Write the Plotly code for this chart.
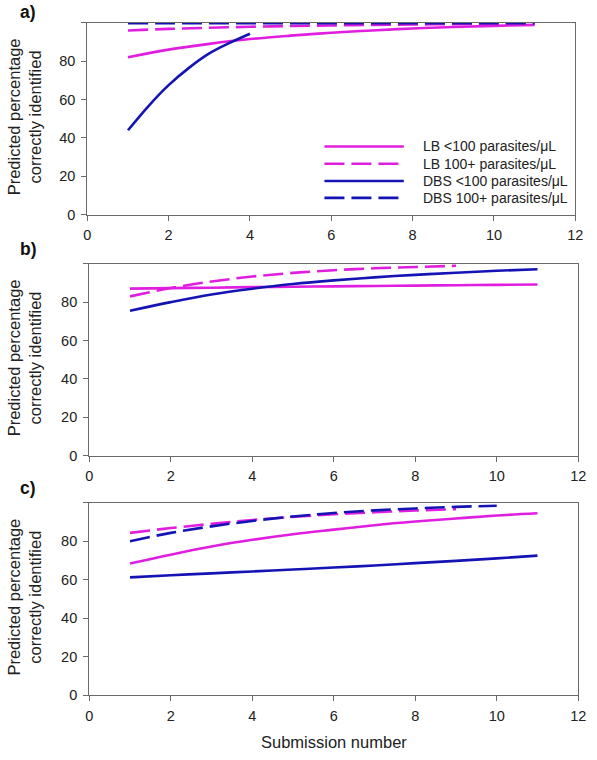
import plotly.graph_objects as go

# ---------------- data ----------------
x_full = [1, 2, 3, 4, 5, 6, 7, 8, 9, 10, 11]
x_to9 = [1, 2, 3, 4, 5, 6, 7, 8, 9]
x_to10 = [1, 2, 3, 4, 5, 6, 7, 8, 9, 10]
x_a_dbs_low = [1, 1.5, 2, 2.5, 3, 3.5, 4]

# panel a
a_lb_low = [82.0, 86.0, 89.0, 91.5, 93.3, 94.8, 96.0, 97.0, 97.8, 98.4, 98.9]
a_lb_high = [96.0, 96.8, 97.4, 97.9, 98.3, 98.6, 98.9, 99.1, 99.3, 99.4, 99.5]
a_dbs_low = [44.0, 56.5, 67.5, 76.5, 84.0, 89.5, 94.3]
a_dbs_high = [99.8, 99.8, 99.8, 99.8, 99.8, 99.8, 99.8, 99.8, 99.8, 99.8, 99.8]

# panel b
b_lb_low = [87.0, 87.3, 87.5, 87.8, 88.0, 88.2, 88.4, 88.6, 88.8, 89.0, 89.2]
b_lb_high = [83.0, 87.3, 90.7, 93.3, 95.2, 96.6, 97.6, 98.3, 98.9]
b_dbs_low = [75.5, 80.0, 84.0, 87.0, 89.4, 91.3, 92.9, 94.2, 95.3, 96.3, 97.1]

# panel c
c_lb_low = [68.4, 73.0, 77.2, 80.7, 83.6, 86.0, 88.3, 90.2, 91.8, 93.3, 94.5]
c_lb_high = [84.3, 86.8, 89.0, 91.0, 92.6, 94.0, 95.0, 95.9, 96.6]
c_dbs_low = [61.2, 62.3, 63.3, 64.3, 65.3, 66.3, 67.4, 68.6, 69.8, 71.1, 72.5]
c_dbs_high = [80.0, 84.3, 87.7, 90.5, 92.8, 94.6, 96.0, 97.0, 97.8, 98.4]

series_names = ["LB <100 parasites/μL", "LB 100+ parasites/μL",
                "DBS <100 parasites/μL", "DBS 100+ parasites/μL"]
y_tickvals = [0, 20, 40, 60, 80, 100]
y_ticktext = ["0", "20", "40", "60", "80", ""]
x_tickvals = [0, 2, 4, 6, 8, 10, 12]
panel_labels = ["a)", "b)", "c)"]
y_title = "Predicted percentage<br>correctly identified"
x_title = "Submission number"

# ---------------- style ----------------
MAG = "#E01EE0"
BLU = "#1414B4"
LW = 2.6
DASH = "20px,7px"
W, H = 597, 760
FONT = "Liberation Sans, Arial, sans-serif"

styles = {
    "lb_low": dict(color=MAG, width=LW, dash="solid"),
    "lb_high": dict(color=MAG, width=LW, dash=DASH),
    "dbs_low": dict(color=BLU, width=LW, dash="solid"),
    "dbs_high": dict(color=BLU, width=LW, dash=DASH),
}

# pixel geometry of panels (left, right, top, bottom)
panels = [
    (85, 583, 23, 217),
    (87, 586, 266.5, 460.7),
    (87, 586, 508, 702.7),
]

fig = go.Figure()

def add(x, y, key, axis_idx):
    sfx = "" if axis_idx == 1 else str(axis_idx)
    fig.add_trace(go.Scatter(
        x=x, y=y, mode="lines", line=dict(shape="spline", **styles[key]),
        xaxis="x" + sfx, yaxis="y" + sfx, showlegend=False, hoverinfo="skip"))

# panel a
add(x_full, a_lb_low, "lb_low", 1)
add(x_full, a_lb_high, "lb_high", 1)
add(x_a_dbs_low, a_dbs_low, "dbs_low", 1)
add(x_full, a_dbs_high, "dbs_high", 1)
# panel b
add(x_full, b_lb_low, "lb_low", 2)
add(x_to9, b_lb_high, "lb_high", 2)
add(x_full, b_dbs_low, "dbs_low", 2)
# panel c
add(x_full, c_lb_low, "lb_low", 3)
add(x_full, c_dbs_low, "dbs_low", 3)
add(x_to9, c_lb_high, "lb_high", 3)
add(x_to10, c_dbs_high, "dbs_high", 3)

layout = dict(
    width=W, height=H, margin=dict(l=0, r=0, t=0, b=0),
    paper_bgcolor="white", plot_bgcolor="white",
    font=dict(family=FONT, size=14, color="#222"),
    showlegend=False,
)

axis_common = dict(showgrid=False, zeroline=False, showline=True, linecolor="#6a6a6a",
                   linewidth=1.2, mirror=True, ticks="outside", ticklen=5, tickwidth=1.2,
                   tickcolor="#6a6a6a", tickfont=dict(size=14.5, color="#222", family=FONT))

for i, (l, r, t, b) in enumerate(panels, start=1):
    sfx = "" if i == 1 else str(i)
    layout["xaxis" + sfx] = dict(axis_common, domain=[l / W, r / W], range=[0, 12],
                                 tickvals=x_tickvals, anchor="y" + sfx, ticklabelstandoff=2)
    layout["yaxis" + sfx] = dict(axis_common, domain=[1 - b / H, 1 - t / H], range=[0, 100],
                                 tickvals=y_tickvals, ticktext=y_ticktext, anchor="x" + sfx,
                                 ticklabelstandoff=3)

fig.update_layout(**layout)

# y titles and panel labels
label_y = [12, 252, 493]
for i, (l, r, t, b) in enumerate(panels):
    fig.add_annotation(x=21 / W, y=1 - ((t + b) / 2 - 2) / H, xref="paper", yref="paper",
                       text=y_title, textangle=-90, showarrow=False,
                       font=dict(size=16.5, color="#222", family=FONT),
                       xanchor="center", yanchor="middle")
    fig.add_annotation(x=25 / W, y=1 - label_y[i] / H, xref="paper", yref="paper",
                       text="<b>" + panel_labels[i] + "</b>", showarrow=False,
                       font=dict(size=17.5, color="#111", family=FONT),
                       xanchor="center", yanchor="middle")

fig.add_annotation(x=337 / W, y=1 - 750 / H, xref="paper", yref="paper",
                   text=x_title, showarrow=False,
                   font=dict(size=16.5, color="#222", family=FONT),
                   xanchor="center", yanchor="middle")

# legend (inside panel a)
leg_rows = [148, 165.5, 183, 200]
leg_keys = ["lb_low", "lb_high", "dbs_low", "dbs_high"]
for yy, key, name in zip(leg_rows, leg_keys, series_names):
    st = styles[key]
    fig.add_shape(type="line", xref="paper", yref="paper",
                  x0=327 / W, x1=408 / W, y0=1 - yy / H, y1=1 - yy / H,
                  line=dict(color=st["color"], width=st["width"], dash=st["dash"]))
    fig.add_annotation(x=426 / W, y=1 - yy / H, xref="paper", yref="paper",
                       text=name, showarrow=False, xanchor="left", yanchor="middle",
                       font=dict(size=14, color="#222", family=FONT))

fig.write_html("out.html")
